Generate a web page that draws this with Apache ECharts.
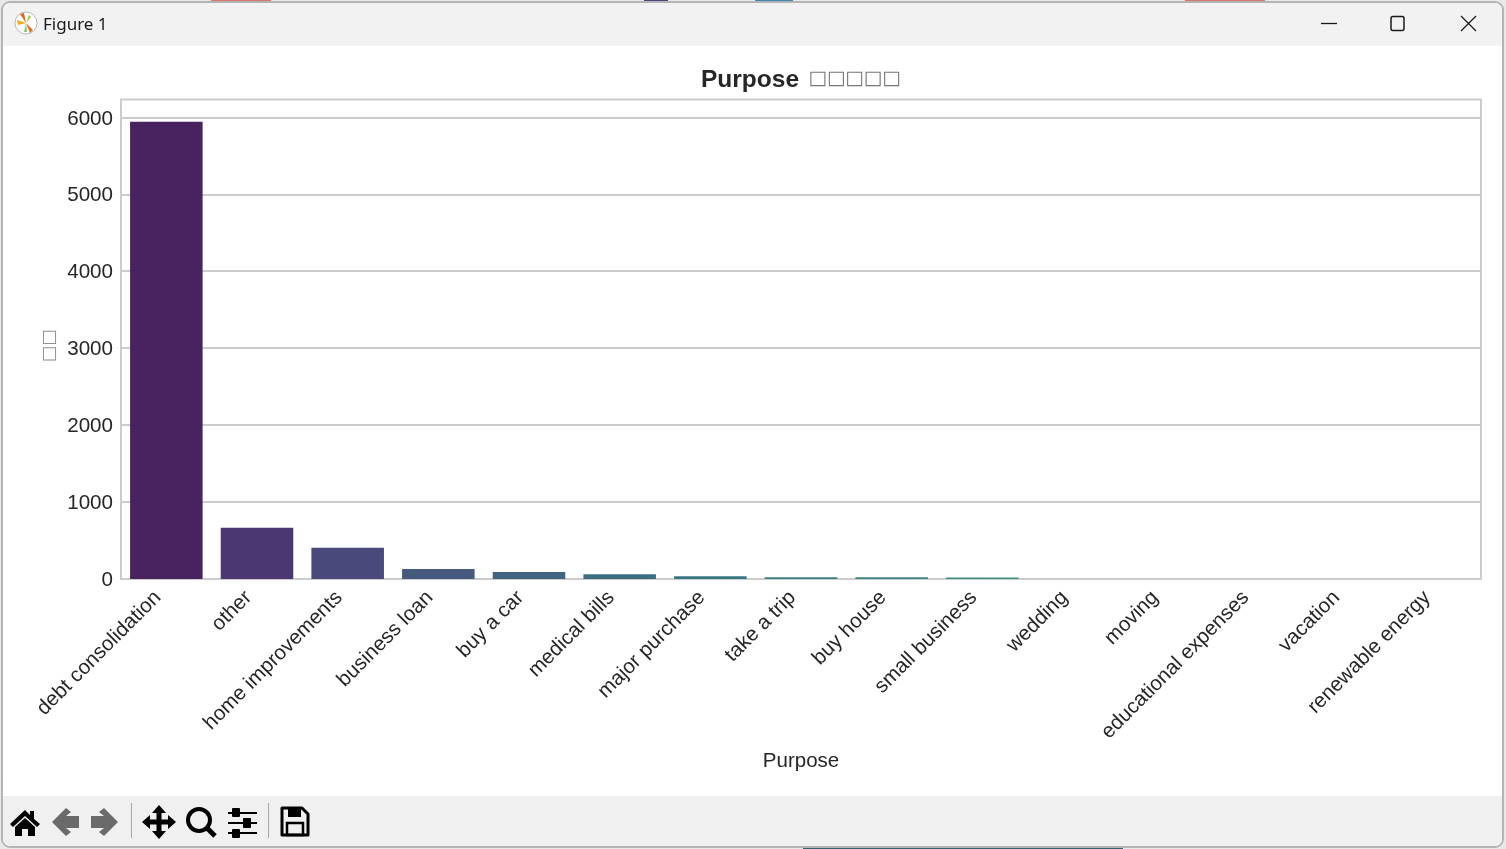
<!DOCTYPE html>
<html>
<head>
<meta charset="utf-8">
<style>html,body{margin:0;padding:0;background:#fff;overflow:hidden}#c{width:1506px;height:849px}</style>
<script src="https://cdn.jsdelivr.net/npm/echarts@6/dist/echarts.min.js"></script>
</head>
<body>
<div id="c"></div>
<script>
const categories = ['debt consolidation','other','home improvements','business loan','buy a car','medical bills','major purchase','take a trip','buy house','small business','wedding','moving','educational expenses','vacation','renewable energy'];
const counts = [5944,665,405,130,92,62,36,24,22,20,1,1,1,1,1];
const barColors = ['#492360','#4b3872','#49497b','#46597f','#3f6581','#3b6e80','#377680','#3a7f80','#3e8680','#428e7e','#4b967a','#579f75','#67a76e','#7bae67','#92b65f'];
const yMax = 6232;
const yInterval = 1000;
const titleMain = 'Purpose';
const titleTofu = '□□□□□';
const yName = '□□';
const xName = 'Purpose';
const windowTitle = 'Figure 1';

const font = '"Liberation Sans", Arial, sans-serif';
const ink = '#262626';
const chart = echarts.init(document.getElementById('c'), null, {renderer:'canvas'});

function rect(x,y,w,h,fill,r,extra){return Object.assign({type:'rect',silent:true,shape:{x,y,width:w,height:h,r:r||0},style:{fill}},extra||{});}
function line(x1,y1,x2,y2,stroke,lw){return {type:'line',silent:true,shape:{x1,y1,x2,y2},style:{stroke,lineWidth:lw||1}};}
function poly(pts,fill,extra){return Object.assign({type:'polygon',silent:true,shape:{points:pts},style:{fill}},extra||{});}

const chrome = [
  rect(0,0,1506,849,'#e9e9e9',0,{z:-10}),
  rect(211,0,60,4,'#d9776c',0,{z:-10}),
  rect(644,0,24,3,'#4a4a78',0,{z:-10}),
  rect(755,0,38,3,'#3f86b4',0,{z:-10}),
  rect(1185,0,80,4,'#d9776c',0,{z:-10}),
  rect(803,845,320,4,'#35606f',0,{z:-10}),
  {type:'rect',silent:true,z:-9,shape:{x:2,y:2,width:1501,height:845,r:8},style:{fill:'#ffffff',stroke:'#b4b4b4',lineWidth:2}},
  {type:'rect',silent:true,z:-8,shape:{x:3,y:3,width:1499,height:43,r:[7,7,0,0]},style:{fill:'#f2f2f2'}},
  {type:'rect',silent:true,z:-8,shape:{x:3,y:796,width:1499,height:50,r:[0,0,7,7]},style:{fill:'#f0f0f0'}},
  // app icon
  {type:'circle',silent:true,shape:{cx:26,cy:23,r:11},style:{fill:'#fff',stroke:'#b8b8b8',lineWidth:1}},
  poly([[26,23],[20,14],[24,13]],'#e8601c'),
  poly([[26,23],[17,20],[18,25]],'#f5a623'),
  poly([[26,23],[33,30],[30,33]],'#e8701c'),
  poly([[26,23],[29,15],[31,17]],'#9acd32'),
  poly([[26,23],[24,32],[27,32]],'#7ccd6a'),
  {type:'text',silent:true,style:{x:43,y:16.5,text:windowTitle,font:'17px "Noto Sans","Open Sans",sans-serif',fill:'#1a1a1a'}},
  // window buttons
  line(1321,23.5,1337,23.5,'#1a1a1a',1.3),
  {type:'rect',silent:true,shape:{x:1391,y:16.5,width:13,height:14,r:2},style:{fill:'none',stroke:'#1a1a1a',lineWidth:1.5}},
  line(1461,16,1476,31,'#1a1a1a',1.3),
  line(1476,16,1461,31,'#1a1a1a',1.3),
  // home
  poly([[10,824],[25,810],[30,815],[30,811],[34,811],[34,819],[40,824],[37,827],[25,816],[13,827]],'#000'),
  poly([[15,827],[25,818],[35,827],[35,836],[28,836],[28,829],[22,829],[22,836],[15,836]],'#000'),
  // back / forward (dithered look as grey)
  poly([[52,822],[66,808],[71,812],[66,816],[79,816],[79,828],[66,828],[71,832],[66,836]],'#6a6a6a'),
  poly([[118,822],[104,808],[99,812],[104,816],[91,816],[91,828],[104,828],[99,832],[104,836]],'#6a6a6a'),
  line(131.5,803,131.5,838,'#a8a8a8',1),
  // move
  poly([[159,805],[166,813],[161.5,813],[161.5,819.5],[168,819.5],[168,815],[176,822],[168,829],[168,824.5],[161.5,824.5],[161.5,831],[166,831],[159,839],[152,831],[156.5,831],[156.5,824.5],[150,824.5],[150,829],[142,822],[150,815],[150,819.5],[156.5,819.5],[156.5,813],[152,813]],'#000'),
  // zoom
  {type:'circle',silent:true,shape:{cx:199,cy:820,r:11},style:{fill:'none',stroke:'#000',lineWidth:4}},
  line(207,828,215,836,'#000',5),
  // sliders
  line(228,813,257,813,'#000',2), line(228,823,257,823,'#000',2), line(228,833,257,833,'#000',2),
  rect(232,808,8,9,'#000',1), rect(243,818,8,10,'#000',1), rect(232,829,8,9,'#000',1),
  line(268.5,803,268.5,838,'#a8a8a8',1),
  // save
  poly([[282,808],[302,808],[308,814],[308,835],[282,835]],'none',{style:{fill:'none',stroke:'#000',lineWidth:3,lineJoin:'round'}}),
  rect(288,808,13,9,'#000',0),
  {type:'rect',silent:true,shape:{x:287,y:823,width:16,height:12},style:{fill:'none',stroke:'#000',lineWidth:2.5}},
  // title and y name
  {type:'text',silent:true,style:{x:701,y:68,text:titleMain,font:'bold 24.5px '+font,fill:ink}},
  {type:'text',silent:true,style:{x:808.5,y:69,text:titleTofu,font:'19.5px "DejaVu Sans"',fill:'#777777'}},
  {type:'text',silent:true,rotation:-Math.PI/2,x:59,y:329,style:{x:0,y:0,text:yName,font:'17.5px "DejaVu Sans"',fill:'#909090'}},
];

chart.setOption({
  animation:false,
  backgroundColor:'transparent',
  graphic:{elements:chrome},
  grid:{left:121,right:25,top:99.5,bottom:270,show:true,borderColor:'#cccccc',borderWidth:2,backgroundColor:'transparent'},
  xAxis:{
    type:'category',data:categories,
    name:xName,nameLocation:'middle',nameGap:171.5,
    nameTextStyle:{fontFamily:font,fontSize:20.5,color:ink},
    axisTick:{show:false},
    axisLine:{show:true,lineStyle:{color:'#cccccc',width:2}},
    axisLabel:{interval:0,rotate:45,fontFamily:font,fontSize:20.6,color:ink,margin:7,padding:[0,12,0,0]}
  },
  yAxis:{
    type:'value',min:0,max:yMax,interval:yInterval,
    axisTick:{show:false},axisLine:{show:false},
    axisLabel:{fontFamily:font,fontSize:20.6,color:ink,margin:8,showMaxLabel:false,
      formatter:v=>'{a|'+v+'}',
      rich:{a:{fontFamily:font,fontSize:20.6,color:ink,padding:[3,0,0,0]}}},
    splitLine:{show:true,showMaxLine:false,lineStyle:{color:'#cccccc',width:2}}
  },
  series:[{
    type:'bar',barWidth:'80%',
    data:counts.map((v,i)=>({value:v,itemStyle:{color:barColors[i]}})),
    z:3
  }]
});
</script>
</body>
</html>
